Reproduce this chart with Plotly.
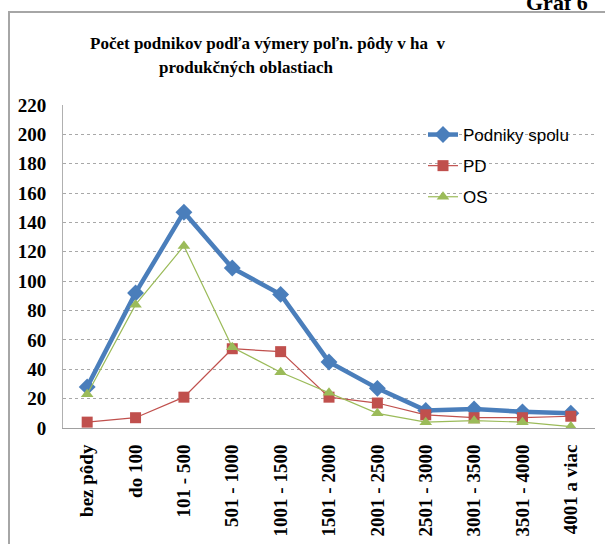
import plotly.graph_objects as go

categories = ["bez pôdy", "do 100", "101 - 500", "501 - 1000", "1001 - 1500",
              "1501 - 2000", "2001 - 2500", "2501 - 3000", "3001 - 3500",
              "3501 - 4000", "4001 a viac"]
podniky_spolu = [28, 92, 147, 109, 91, 45, 27, 12, 13, 11, 10]
pd_values = [4, 7, 21, 54, 52, 21, 17, 9, 7, 7, 8]
os_values = [23, 84, 124, 55, 38, 24, 10, 4, 5, 4, 1]
y_ticks = list(range(0, 221, 20))

W, H = 605, 544
L, R, T, B = 63, 10, 105, 116
PW, PH = W - L - R, H - T - B


def xp(px):
    return (px - L) / PW


def yp(py):
    return (H - B - py) / PH


fig = go.Figure()
fig.add_trace(go.Scatter(
    x=categories, y=podniky_spolu, name="Podniky spolu", mode="lines+markers",
    line=dict(color="#4A7EBB", width=4.5),
    marker=dict(symbol="diamond", size=13, color="#4A7EBB"),
    legendgroup="a"))
fig.add_trace(go.Scatter(
    x=categories, y=pd_values, name="PD", mode="lines+markers",
    line=dict(color="#C0504D", width=1.2),
    marker=dict(symbol="square", size=11, color="#C0504D"),
    legendgroup="b"))
fig.add_trace(go.Scatter(
    x=categories, y=os_values, name="OS", mode="lines+markers",
    line=dict(color="#9BBB59", width=1.2),
    marker=dict(symbol="triangle-up", size=11, color="#9BBB59"),
    legendgroup="c"))

serif_bold = "Liberation Serif"

fig.update_layout(
    width=W, height=H,
    margin=dict(l=L, r=R, t=T, b=B, autoexpand=False),
    paper_bgcolor="white", plot_bgcolor="white",
    showlegend=True,
    legend=dict(x=xp(423), y=yp(117), xanchor="left", yanchor="top",
                bgcolor="rgba(0,0,0,0)", tracegroupgap=6,
                font=dict(family="Liberation Sans Narrow, Liberation Sans, sans-serif",
                          size=17, color="black")),
    xaxis=dict(type="category", range=[-0.5, len(categories) - 0.5],
               showgrid=False, showline=True, linecolor="#A0A0A0", linewidth=1,
               ticks="", tickangle=-90, ticklabelstandoff=8,
               tickfont=dict(family=serif_bold, size=19, color="black",
                             weight="bold")),
    yaxis=dict(range=[0, 220], tickvals=y_ticks, showgrid=True,
               gridcolor="#A8A8A8", griddash="dot", gridwidth=1,
               showline=True, linecolor="#B0B0B0", linewidth=1,
               zeroline=False, ticks="", ticklabelstandoff=12,
               tickfont=dict(family=serif_bold, size=19, color="black",
                             weight="bold")),
    annotations=[
        dict(text="<b>Počet podnikov podľa výmery poľn. pôdy v ha  v</b>",
             x=xp(268), y=yp(43), xref="paper", yref="paper",
             xanchor="center", yanchor="middle", showarrow=False,
             font=dict(family=serif_bold, size=17, color="black")),
        dict(text="<b>produkčných oblastiach</b>",
             x=xp(246), y=yp(67), xref="paper", yref="paper",
             xanchor="center", yanchor="middle", showarrow=False,
             font=dict(family=serif_bold, size=17, color="black")),
        dict(text="<b>Graf 6</b>",
             x=xp(557), y=yp(17), xref="paper", yref="paper",
             xanchor="center", yanchor="bottom", showarrow=False,
             font=dict(family=serif_bold, size=22, color="black")),
    ],
)

fig.add_shape(type="rect", xref="paper", yref="paper",
              x0=xp(9), y0=yp(620), x1=xp(640), y1=yp(12),
              line=dict(color="#A6A6A6", width=2), fillcolor="rgba(0,0,0,0)",
              layer="above")

fig.write_html("out.html",
               config={"displayModeBar": False},
               post_script="document.body.style.margin='0';"
                           "document.body.style.padding='0';")
